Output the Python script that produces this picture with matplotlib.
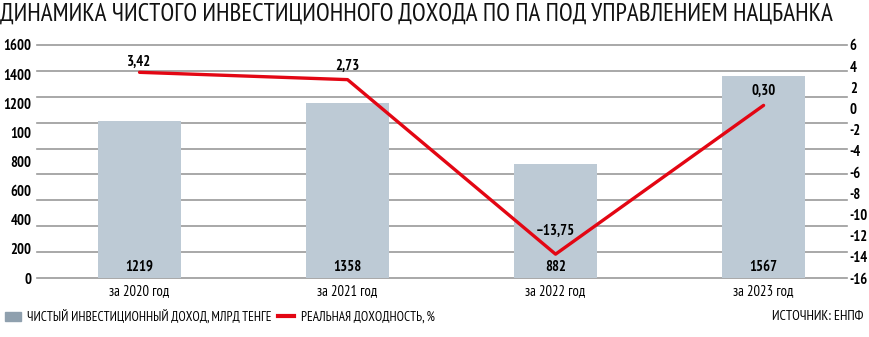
import numpy as np
import matplotlib
matplotlib.use("Agg")
import matplotlib.pyplot as plt
from matplotlib.patches import Patch
from matplotlib.lines import Line2D
from matplotlib import font_manager

names = set(f.name for f in font_manager.fontManager.ttflist)
narrow = 'DejaVu Sans'
for cand in ['PT Sans Narrow', 'Fira Sans Condensed', 'Roboto Condensed',
             'Open Sans Condensed', 'Liberation Sans Narrow', 'Arimo']:
    if cand in names:
        narrow = cand
        break
plt.rcParams['font.family'] = [narrow, 'DejaVu Sans']

years = ['за 2020 год', 'за 2021 год', 'за 2022 год', 'за 2023 год']
income = [1219, 1358, 882, 1567]
returns = [3.42, 2.73, -13.75, 0.30]
return_labels = ['3,42', '2,73', '–13,75', '0,30']
left_labels = ['0', '200', '400', '600', '800', '100', '1200', '1400', '1600']
right_ticks = list(range(-16, 7, 2))

bar_color = '#bdcad5'
red = '#e30613'

fig = plt.figure(figsize=(8.7, 3.37), dpi=100)
ax = fig.add_axes([37/870, 59/337, 810/870, 233/337])
x = np.arange(len(years))

top = 1808
ax.bar(x, income, width=0.4, color=bar_color, zorder=2)
ax.set_ylim(0, top)
ax.set_xlim(-0.493, 3.401)
ax.set_yticks(np.linspace(0, top, 9))
ax.set_yticklabels(left_labels, fontsize=10.5, fontweight='bold')
# grid lines (10 of them, not tied to the labels)
for g in np.linspace(0, top, 10):
    ax.axhline(g, color='#9a9a9a', linewidth=1.2, zorder=0, clip_on=False)
ax.tick_params(axis='y', which='both', length=0, pad=4)
ax.set_xticks(x)
ax.set_xticklabels(years, fontsize=10.5)
ax.tick_params(axis='x', length=0, pad=4)
for s in ax.spines.values():
    s.set_visible(False)
for i, v in enumerate(income):
    ax.text(i, 11*top/233, str(v), ha='center', va='center', fontsize=10.5, fontweight='bold', zorder=5)

ax2 = ax.twinx()
ax2.set_ylim(-16, 6)
ax2.set_yticks(right_ticks)
ax2.set_yticklabels([str(t) for t in right_ticks], fontsize=10.5, fontweight='bold')
ax2.tick_params(axis='y', length=0, pad=2)
for s in ax2.spines.values():
    s.set_visible(False)
ax2.plot(x, returns, color=red, linewidth=2.4, solid_capstyle='round', zorder=4)
offsets = [1.0, 1.3, 2.2, 1.4]
for i, (v, lab) in enumerate(zip(returns, return_labels)):
    ax2.text(i, v + offsets[i], lab, ha='center', va='center', fontsize=10.5, fontweight='bold')

fig.text(0.0, 0.957, 'ДИНАМИКА ЧИСТОГО ИНВЕСТИЦИОННОГО ДОХОДА ПО ПА ПОД УПРАВЛЕНИЕМ НАЦБАНКА',
         ha='left', va='center', fontsize=18, color='#111111')

handles = [Patch(color='#8fa0ae'), Line2D([0], [0], color=red, linewidth=3)]
fig.legend(handles, ['ЧИСТЫЙ ИНВЕСТИЦИОННЫЙ ДОХОД, МЛРД ТЕНГЕ', 'РЕАЛЬНАЯ ДОХОДНОСТЬ, %'],
           loc='center left', bbox_to_anchor=(-0.008, 0.06), ncol=2, frameon=False,
           fontsize=9.5, handlelength=1.2, handletextpad=0.5, columnspacing=0.5)
fig.text(0.992, 0.06, 'ИСТОЧНИК: ЕНПФ', ha='right', va='center', fontsize=10)

fig.savefig('out.png', dpi=100)
